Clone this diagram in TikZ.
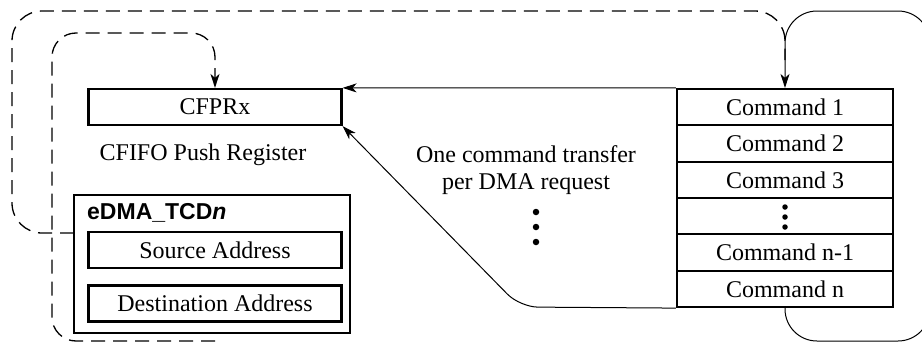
\documentclass[tikz,border=0pt]{standalone}
\usepackage{fontspec}
\setmainfont{Liberation Serif}
\newfontfamily\lsans{Liberation Sans}
\usetikzlibrary{arrows.meta}
\begin{document}
\begin{tikzpicture}[x=1pt,y=-1pt,
  txt/.style={font=\fontsize{24}{27}\selectfont, inner sep=0pt},
  regbox/.style={draw, line width=2.2pt, txt, minimum width=253pt, minimum height=36pt},
  cmdbox/.style={draw, line width=2.2pt, txt, minimum width=216pt, minimum height=36.33pt},
  conn/.style={line width=1pt},
  dashline/.style={line width=1.3pt, dash pattern=on 14pt off 8pt},
  tip/.style={-{Stealth[length=14pt,width=9pt,inset=4pt]}},
  bigdot/.style={circle, fill, inner sep=0pt, minimum size=6.5pt},
  smalldot/.style={circle, fill, inner sep=0pt, minimum size=5.5pt}]
\useasboundingbox (0,0) rectangle (922,343);
\clip (0,0) rectangle (922,343);

% left side
\node[regbox] (cfprx) at (215,107) {CFPRx};
\node[txt] (cfifo) at (203,155) {CFIFO Push Register};
\node[draw, line width=2.2pt, minimum width=276pt, minimum height=138pt, inner sep=0pt] (tcd) at (212,264) {};
\node[txt, anchor=west, font=\lsans\bfseries\fontsize{23}{26}\selectfont] (tcdlabel) at (87,213) {eDMA\_TCD\textit{n}};
\node[regbox] (src) at (215,250) {Source Address};
\node[regbox] (dst) at (215,303.5) {Destination Address};

% command stack
\node[cmdbox] (c1) at (785,107.17) {Command 1};
\node[cmdbox] (c2) at (785,143.5) {Command 2};
\node[cmdbox] (c3) at (785,179.83) {Command 3};
\node[cmdbox] (c4) at (785,216.17) {};
\node[cmdbox] (c5) at (785,252.5) {Command n-1};
\node[cmdbox] (c6) at (785,288.83) {Command n};
\node[smalldot] (s1) at (785,207) {};
\node[smalldot] (s2) at (785,217) {};
\node[smalldot] (s3) at (785,227) {};

% middle text and dots
\node[txt, align=center] (note) at (526,170) {One command transfer\\per DMA request};
\node[bigdot] (d1) at (536,212) {};
\node[bigdot] (d2) at (536,227) {};
\node[bigdot] (d3) at (536,242) {};

% connectors
\draw[conn, tip] (c1.north west) -- (cfprx.north east);
\coordinate (dcorner) at (520,307);
\draw[conn, tip, rounded corners=18pt] (c6.south west) -- (dcorner) -- (cfprx.south east);

% solid loop on right
\coordinate (lb1) at (785,341);
\coordinate (lb2) at (930,341);
\coordinate (lt2) at (930,11);
\coordinate (lt1) at (785,11);
\draw[conn, tip, rounded corners=32pt] (c6.south) -- (lb1) -- (lb2) -- (lt2) -- (lt1) -- (c1.north);

% outer dashed loop
\coordinate (o0) at (74,233);
\coordinate (o1) at (12,233);
\coordinate (o2) at (12,11);
\coordinate (o3) at (785,11);
\coordinate (o4) at (785,60);
\draw[dashline, rounded corners=30pt] (o0) -- (o1) -- (o2) -- (o3) -- (o4);

% inner dashed loop
\coordinate (i0) at (215,341);
\coordinate (i1) at (52,341);
\coordinate (i2) at (52,33);
\coordinate (i3) at (215,33);
\draw[dashline, tip, rounded corners=24pt] (i0) -- (i1) -- (i2) -- (i3) -- (cfprx.north);
\end{tikzpicture}
\end{document}
